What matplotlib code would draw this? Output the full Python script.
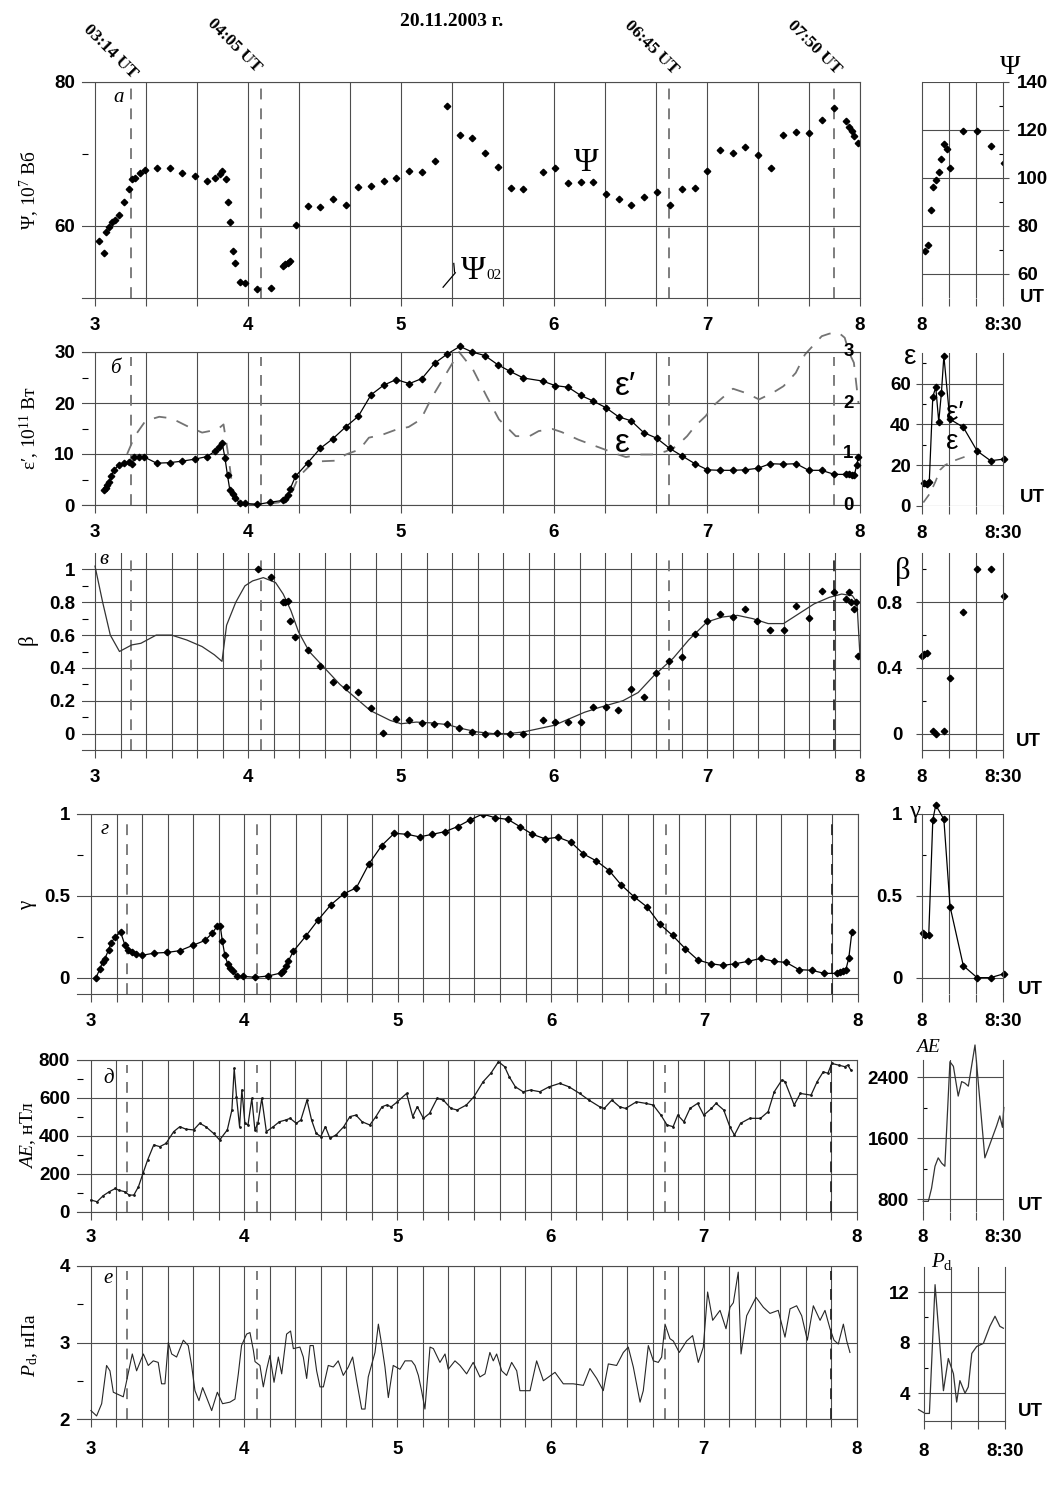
import matplotlib.pyplot as plt
from matplotlib.ticker import MultipleLocator

plt.rcParams['font.family'] = ['Liberation Serif', 'DejaVu Serif']
plt.rcParams['mathtext.fontset'] = 'custom'
plt.rcParams['mathtext.rm'] = 'Liberation Serif'
plt.rcParams['mathtext.it'] = 'Liberation Serif:italic'

# ---------------- data ----------------
hours = [3, 4, 5, 6, 7, 8]
hour_labels = ['3', '4', '5', '6', '7', '8']
events = [3.233, 4.083, 6.75, 7.833]
event_labels = ['03:14 UT', '04:05 UT', '06:45 UT', '07:50 UT']

# a) magnetic flux Psi, 10^7 Wb
psi_t = [3.024, 3.056, 3.074, 3.093, 3.111, 3.128, 3.157, 3.189, 3.224, 3.244,
         3.261, 3.292, 3.324, 3.407, 3.49, 3.568, 3.655, 3.733, 3.783, 3.816,
         3.833, 3.853, 3.866, 3.883, 3.899, 3.916, 3.946, 3.983, 4.061, 4.148,
         4.23, 4.245, 4.26, 4.274, 4.311, 4.392, 4.472, 4.555, 4.638, 4.721,
         4.804, 4.887, 4.969, 5.054, 5.137, 5.22, 5.302, 5.385, 5.465, 5.548,
         5.633, 5.716, 5.80, 5.926, 6.009, 6.092, 6.174, 6.255, 6.338, 6.422,
         6.505, 6.586, 6.671, 6.756, 6.838, 6.921, 7.003, 7.084, 7.169, 7.251,
         7.332, 7.421, 7.499, 7.582, 7.665, 7.749, 7.832, 7.911, 7.93, 7.947,
         7.964, 7.984]
psi = [57.9, 56.2, 59.1, 59.8, 60.5, 60.8, 61.5, 63.4, 65.2, 66.5,
       66.7, 67.3, 67.8, 68.0, 68.0, 67.4, 67.0, 66.3, 66.7, 67.2,
       67.7, 66.5, 63.3, 60.6, 56.5, 54.9, 52.2, 52.1, 51.2, 51.4,
       54.5, 54.7, 54.9, 55.1, 60.2, 62.8, 62.6, 63.7, 62.9, 65.4,
       65.6, 66.3, 66.6, 67.7, 67.5, 69.0, 76.7, 72.6, 72.2, 70.1,
       68.2, 65.3, 65.1, 67.5, 68.1, 66.0, 66.1, 66.1, 64.5, 63.8,
       62.9, 64.0, 64.7, 62.9, 65.1, 65.3, 67.7, 70.6, 70.2, 71.0,
       69.9, 68.1, 72.6, 73.0, 72.9, 74.7, 76.4, 74.6, 73.8, 73.2,
       72.5, 71.5]
psi_r_min = [1.1, 2.2, 3.3, 4.2, 5.2, 6.2, 7.2, 8.1, 9.3, 10.4, 15.3, 20.4, 25.4, 30.4]
psi_r = [69.4, 72.1, 86.7, 96.4, 99.3, 102.7, 108.1, 114.2, 111.9, 104.1, 119.7, 119.7, 113.5, 106.4]

# b) epsilon' (10^11 W) and epsilon (right scale)
eps1_t = [3.056, 3.069, 3.08, 3.089, 3.106, 3.122, 3.154, 3.189, 3.222, 3.241,
          3.256, 3.289, 3.322, 3.403, 3.487, 3.57, 3.653, 3.733, 3.786, 3.81,
          3.831, 3.849, 3.866, 3.881, 3.899, 3.916, 3.946, 3.983, 4.061, 4.146,
          4.228, 4.245, 4.263, 4.276, 4.31, 4.391, 4.472, 4.555, 4.638, 4.721,
          4.804, 4.887, 4.969, 5.054, 5.137, 5.22, 5.302, 5.385, 5.465, 5.548,
          5.633, 5.713, 5.80, 5.926, 6.009, 6.092, 6.174, 6.255, 6.338, 6.422,
          6.505, 6.586, 6.671, 6.756, 6.838, 6.921, 7.003, 7.084, 7.169, 7.251,
          7.332, 7.414, 7.499, 7.582, 7.665, 7.749, 7.832, 7.91, 7.93, 7.945,
          7.963, 7.978, 7.99]
eps1 = [3.0, 3.4, 3.9, 4.5, 5.6, 6.8, 7.8, 8.3, 8.4, 8.0,
        9.4, 9.5, 9.4, 8.2, 8.3, 8.6, 9.0, 9.5, 10.6, 11.3,
        12.2, 9.3, 5.8, 3.0, 2.1, 1.4, 0.35, 0.3, 0.1, 0.55,
        0.9, 1.2, 1.9, 3.2, 5.6, 8.3, 11.1, 13.0, 15.3, 17.4,
        21.6, 23.5, 24.6, 23.8, 24.8, 27.8, 29.6, 31.1, 30.0, 29.3,
        27.5, 26.2, 24.9, 24.3, 23.4, 23.1, 21.5, 20.4, 19.1, 17.3,
        16.5, 14.2, 13.1, 11.1, 9.6, 8.1, 6.9, 6.8, 6.8, 6.9,
        7.2, 8.1, 8.0, 8.1, 6.8, 6.8, 6.0, 6.0, 6.0, 5.9,
        5.8, 7.8, 9.5]
eps_t = [3.21, 3.26, 3.33, 3.42, 3.5, 3.6, 3.7, 3.8, 3.84, 3.87,
         3.9, 3.95, 4.0, 4.1, 4.2, 4.28, 4.33, 4.43, 4.5, 4.58,
         4.64, 4.73, 4.79, 4.88, 4.97, 5.05, 5.13, 5.2, 5.3, 5.38,
         5.47, 5.56, 5.64, 5.75, 5.84, 5.9, 5.99, 6.05, 6.16, 6.24,
         6.33, 6.39, 6.47, 6.56, 6.64, 6.73, 6.8, 6.87, 6.92, 6.99,
         7.05, 7.1, 7.17, 7.26, 7.34, 7.43, 7.5, 7.58, 7.64, 7.71,
         7.75, 7.8, 7.86, 7.9, 7.93, 7.96, 7.99]
eps = [1.0, 1.35, 1.65, 1.73, 1.7, 1.55, 1.42, 1.48, 1.58, 1.0,
       0.3, 0.05, 0.02, 0.01, 0.05, 0.2, 0.55, 0.85, 0.86, 0.87,
       0.99, 1.09, 1.32, 1.38, 1.48, 1.53, 1.68, 2.1, 2.6, 3.0,
       2.66, 2.13, 1.68, 1.35, 1.35, 1.45, 1.49, 1.43, 1.28, 1.19,
       1.09, 1.02, 0.94, 0.99, 0.99, 1.05, 1.15, 1.35, 1.54, 1.74,
       1.97, 2.1, 2.28, 2.19, 2.07, 2.2, 2.33, 2.59, 2.95, 3.18,
       3.31, 3.36, 3.38, 3.28, 2.98, 2.79, 2.0]
eps1_r_min = [0.9, 1.7, 2.7, 4.0, 5.1, 6.2, 7.2, 8.1, 10.3, 15.3, 20.4, 25.4, 30.4]
eps1_r = [11.3, 10.9, 12.0, 53.6, 58.2, 41.3, 55.6, 73.6, 42.6, 38.6, 27.0, 22.2, 23.0]
eps_r_min = [0.5, 3.0, 5.0, 6.7, 8.5, 11.0, 16.0]
eps_r = [1.7, 6.3, 12.0, 17.7, 20.0, 21.8, 24.2]

# c) beta
beta_t = [4.063, 4.148, 4.226, 4.243, 4.261, 4.277, 4.307, 4.39, 4.473, 4.556,
          4.638, 4.721, 4.801, 4.884, 4.97, 5.052, 5.135, 5.218, 5.3, 5.382,
          5.464, 5.547, 5.63, 5.71, 5.80, 5.926, 6.009, 6.092, 6.174, 6.255,
          6.338, 6.42, 6.505, 6.586, 6.669, 6.754, 6.837, 6.92, 7.003, 7.085,
          7.17, 7.25, 7.33, 7.415, 7.5, 7.58, 7.664, 7.749, 7.831, 7.907,
          7.925, 7.94, 7.96, 7.975, 7.99]
beta = [1.0, 0.955, 0.8, 0.8, 0.81, 0.687, 0.587, 0.51, 0.41, 0.313,
        0.284, 0.251, 0.155, 0.002, 0.09, 0.08, 0.066, 0.057, 0.06, 0.037,
        0.008, 0.0, 0.002, 0.0, 0.0, 0.08, 0.07, 0.07, 0.07, 0.163,
        0.16, 0.141, 0.27, 0.223, 0.366, 0.441, 0.468, 0.605, 0.687, 0.73,
        0.71, 0.76, 0.685, 0.632, 0.63, 0.775, 0.705, 0.87, 0.86, 0.82,
        0.865, 0.80, 0.76, 0.80, 0.47]
beta_fit_t = [3.0, 3.05, 3.1, 3.16, 3.24, 3.3, 3.4, 3.5, 3.6, 3.7,
              3.78, 3.83, 3.86, 3.92, 3.98, 4.03, 4.1, 4.18, 4.23, 4.28,
              4.33, 4.4, 4.5, 4.6, 4.7, 4.8, 4.93, 5.0, 5.1, 5.2,
              5.3, 5.4, 5.5, 5.6, 5.7, 5.8, 5.9, 6.0, 6.1, 6.2,
              6.3, 6.45, 6.55, 6.65, 6.78, 6.88, 7.0, 7.1, 7.2, 7.3,
              7.4, 7.5, 7.6, 7.7, 7.8, 7.88, 7.95, 7.98, 8.0]
beta_fit = [1.02, 0.8, 0.6, 0.5, 0.54, 0.55, 0.6, 0.6, 0.57, 0.53,
            0.48, 0.44, 0.66, 0.8, 0.9, 0.93, 0.95, 0.92, 0.85, 0.75,
            0.62, 0.5, 0.4, 0.3, 0.22, 0.14, 0.08, 0.06, 0.07, 0.065,
            0.055, 0.03, 0.01, 0.0, 0.0, 0.01, 0.03, 0.05, 0.09, 0.13,
            0.16, 0.2, 0.25, 0.35, 0.46, 0.57, 0.68, 0.71, 0.72, 0.7,
            0.67, 0.67, 0.73, 0.79, 0.83, 0.85, 0.84, 0.8, 0.47]
beta_r_min = [0.0, 0.9, 2.0, 4.2, 5.2, 8.1, 10.4, 15.3, 20.4, 25.4, 30.4]
beta_r = [0.47, 0.486, 0.49, 0.015, 0.0, 0.015, 0.34, 0.74, 1.0, 1.0, 0.84]

# d) gamma
gam_t = [3.033, 3.059, 3.076, 3.091, 3.115, 3.13, 3.158, 3.193, 3.222, 3.243,
         3.265, 3.295, 3.33, 3.413, 3.497, 3.58, 3.663, 3.743, 3.791, 3.821,
         3.843, 3.856, 3.873, 3.891, 3.906, 3.924, 3.954, 3.989, 4.071, 4.154,
         4.237, 4.254, 4.271, 4.286, 4.319, 4.399, 4.482, 4.564, 4.647, 4.73,
         4.812, 4.895, 4.977, 5.06, 5.142, 5.225, 5.307, 5.39, 5.47, 5.553,
         5.635, 5.718, 5.796, 5.878, 5.961, 6.045, 6.13, 6.21, 6.295, 6.378,
         6.456, 6.543, 6.626, 6.708, 6.791, 6.874, 6.956, 7.039, 7.12, 7.2,
         7.286, 7.368, 7.45, 7.532, 7.615, 7.697, 7.781, 7.863, 7.88, 7.9,
         7.92, 7.94, 7.96]
gam = [0.0, 0.055, 0.096, 0.116, 0.17, 0.211, 0.248, 0.279, 0.197, 0.17,
       0.157, 0.146, 0.136, 0.15, 0.154, 0.165, 0.197, 0.227, 0.272, 0.313,
       0.315, 0.226, 0.136, 0.085, 0.059, 0.038, 0.008, 0.008, 0.002, 0.01,
       0.028, 0.04, 0.069, 0.1, 0.161, 0.252, 0.354, 0.445, 0.512, 0.549,
       0.695, 0.807, 0.882, 0.876, 0.86, 0.876, 0.892, 0.923, 0.963, 1.0,
       0.977, 0.967, 0.923, 0.876, 0.848, 0.858, 0.827, 0.756, 0.713, 0.654,
       0.567, 0.492, 0.431, 0.327, 0.258, 0.177, 0.108, 0.085, 0.075, 0.085,
       0.1, 0.118, 0.1, 0.093, 0.049, 0.045, 0.026, 0.026, 0.036, 0.04,
       0.045, 0.12, 0.278]
gam_r_min = [0.3, 1.2, 2.5, 4.0, 5.1, 8.1, 10.4, 15.3, 20.4, 25.4, 30.4]
gam_r = [0.272, 0.262, 0.262, 0.963, 1.055, 0.967, 0.434, 0.073, 0.0, 0.0, 0.024]

# e) AE index, nT
ae_t = [3.0, 3.04, 3.08, 3.12, 3.16, 3.18, 3.22, 3.25, 3.28, 3.31,
        3.34, 3.37, 3.41, 3.45, 3.49, 3.54, 3.58, 3.62, 3.67, 3.71,
        3.75, 3.8, 3.84, 3.89, 3.92, 3.935, 3.95, 3.97, 3.985, 4.005,
        4.025, 4.05, 4.07, 4.09, 4.115, 4.145, 4.19, 4.23, 4.27, 4.3,
        4.34, 4.37, 4.41, 4.44, 4.47, 4.5, 4.53, 4.56, 4.6, 4.65,
        4.69, 4.73, 4.77, 4.82, 4.86, 4.9, 4.93, 4.96, 5.0, 5.06,
        5.1, 5.13, 5.17, 5.21, 5.26, 5.3, 5.35, 5.39, 5.45, 5.5,
        5.56, 5.61, 5.66, 5.7, 5.73, 5.77, 5.82, 5.87, 5.93, 5.99,
        6.06, 6.12, 6.19, 6.25, 6.32, 6.35, 6.4, 6.45, 6.49, 6.56,
        6.62, 6.67, 6.72, 6.76, 6.8, 6.83, 6.87, 6.91, 6.96, 7.0,
        7.05, 7.08, 7.13, 7.17, 7.2, 7.24, 7.3, 7.37, 7.42, 7.46,
        7.51, 7.53, 7.59, 7.63, 7.7, 7.74, 7.78, 7.81, 7.835, 7.88,
        7.92, 7.94, 7.96]
ae = [63, 54, 86, 107, 124, 115, 107, 89, 89, 133,
      204, 274, 353, 344, 361, 423, 449, 436, 432, 467,
      449, 414, 379, 432, 537, 756, 607, 449, 642, 467,
      458, 598, 432, 467, 598, 423, 449, 475, 484, 493,
      467, 484, 589, 484, 414, 397, 449, 388, 406, 449,
      502, 510, 475, 458, 502, 554, 563, 554, 580, 624,
      502, 554, 493, 519, 598, 589, 545, 537, 563, 607,
      686, 730, 791, 765, 712, 659, 633, 642, 633, 659,
      677, 659, 624, 589, 554, 545, 589, 554, 545, 580,
      572, 563, 510, 458, 449, 510, 475, 545, 572, 510,
      545, 572, 537, 449, 405, 467, 493, 493, 528, 633,
      695, 686, 563, 624, 615, 686, 738, 730, 782, 773,
      765, 773, 747]
ae_r_min = [0.1, 2.0, 3.2, 4.5, 5.7, 7.0, 8.2, 10.1, 11.4, 13.2,
            14.5, 15.7, 17.0, 19.5, 23.2, 25.1, 27.6, 28.8, 29.8, 30.3]
ae_r = [770, 770, 940, 1230, 1340, 1270, 1230, 2600, 2540, 2150,
        2340, 2320, 2280, 2820, 1340, 1520, 1760, 1890, 1740, 2000]

# f) dynamic pressure Pd, nPa
pd_t = [3.0, 3.037, 3.07, 3.102, 3.124, 3.146, 3.189, 3.211, 3.233, 3.27,
        3.298, 3.342, 3.374, 3.407, 3.439, 3.461, 3.483, 3.505, 3.527, 3.559,
        3.603, 3.635, 3.657, 3.679, 3.705, 3.729, 3.755, 3.788, 3.825, 3.859,
        3.907, 3.94, 3.962, 3.983, 4.016, 4.038, 4.06, 4.071, 4.103, 4.125,
        4.147, 4.168, 4.195, 4.223, 4.245, 4.277, 4.303, 4.321, 4.364, 4.386,
        4.408, 4.43, 4.451, 4.473, 4.495, 4.517, 4.549, 4.582, 4.614, 4.647,
        4.68, 4.708, 4.734, 4.767, 4.789, 4.81, 4.839, 4.854, 4.876, 4.897,
        4.919, 4.941, 4.973, 5.017, 5.05, 5.093, 5.115, 5.137, 5.158, 5.18,
        5.213, 5.235, 5.278, 5.311, 5.332, 5.376, 5.409, 5.452, 5.495, 5.539,
        5.572, 5.604, 5.626, 5.648, 5.681, 5.713, 5.746, 5.779, 5.8, 5.866,
        5.909, 5.953, 6.029, 6.083, 6.148, 6.214, 6.257, 6.301, 6.344, 6.377,
        6.431, 6.475, 6.507, 6.54, 6.584, 6.605, 6.638, 6.671, 6.703, 6.725,
        6.747, 6.779, 6.801, 6.84, 6.888, 6.927, 6.964, 6.997, 7.025, 7.058,
        7.106, 7.145, 7.171, 7.193, 7.225, 7.243, 7.28, 7.341, 7.389, 7.432,
        7.486, 7.53, 7.563, 7.606, 7.639, 7.676, 7.715, 7.759, 7.791, 7.824,
        7.85, 7.878, 7.911, 7.933, 7.954]
pd = [2.11, 2.04, 2.2, 2.7, 2.63, 2.35, 2.31, 2.29, 2.5, 2.85,
      2.63, 2.85, 2.7, 2.76, 2.74, 2.46, 2.46, 3.0, 2.85, 2.81,
      3.03, 2.96, 2.7, 2.37, 2.24, 2.41, 2.28, 2.11, 2.35, 2.2,
      2.22, 2.26, 2.59, 2.96, 3.11, 3.13, 2.9, 2.75, 2.7, 2.42,
      2.65, 2.83, 2.48, 2.81, 2.59, 3.11, 3.15, 2.92, 2.94, 2.81,
      2.53, 2.96, 2.96, 2.63, 2.42, 2.42, 2.7, 2.68, 2.76, 2.57,
      2.68, 2.81, 2.5, 2.13, 2.13, 2.55, 2.76, 2.87, 3.24, 2.98,
      2.68, 2.28, 2.7, 2.65, 2.76, 2.76, 2.7, 2.57, 2.37, 2.13,
      2.94, 2.92, 2.74, 2.85, 2.65, 2.76, 2.7, 2.59, 2.74, 2.55,
      2.59, 2.87, 2.76, 2.85, 2.63, 2.57, 2.74, 2.63, 2.37, 2.37,
      2.76, 2.5, 2.61, 2.46, 2.46, 2.44, 2.66, 2.53, 2.37, 2.72,
      2.7, 2.87, 2.94, 2.68, 2.22, 2.37, 2.96, 2.76, 2.74, 2.81,
      3.24, 3.05, 3.02, 2.87, 3.02, 3.09, 2.74, 2.94, 3.66, 3.29,
      3.42, 3.18, 3.46, 3.52, 3.92, 2.85, 3.35, 3.59, 3.46, 3.38,
      3.42, 3.07, 3.44, 3.48, 3.35, 3.03, 3.48, 3.29, 3.42, 3.18,
      3.03, 2.98, 3.24, 3.02, 2.87]
pd_r_min = [-2.0, 0.4, 2.0, 4.1, 7.2, 9.0, 10.9, 12.1, 13.3, 15.2,
            16.4, 17.7, 19.5, 22.0, 24.4, 26.3, 28.1, 29.4]
pd_r = [2.7, 2.4, 2.4, 12.6, 4.2, 6.75, 5.55, 3.3, 5.0, 4.0,
        4.5, 7.15, 7.7, 7.95, 9.3, 10.1, 9.3, 9.15]

# ---------------- layout ----------------
W, H = 1058, 1490
fig = plt.figure(figsize=(W / 100, H / 100), dpi=100)
GRID = '0.3'
tfont = dict(family='Liberation Sans', weight='bold', size=13.5)


def box(l, t, r, b):
    return fig.add_axes([l / W, 1 - b / H, (r - l) / W, (b - t) / H])


def ftext(x, y, s, **kw):
    fig.text(x / W, 1 - y / H, s, **kw)


def main_panel(l, t, r, b, x0, ylim, ymaj, ylab, ymin, step, xpad=8):
    ax = box(l, t, r, b)
    ax.set_xlim(x0, 8)
    ax.set_ylim(*ylim)
    ax.set_xticks(hours)
    ax.set_xticklabels(hour_labels, **tfont)
    ax.xaxis.set_minor_locator(MultipleLocator(step))
    ax.set_yticks(ymaj)
    ax.set_yticklabels(ylab, **tfont)
    ax.set_yticks(ymin, minor=True)
    ax.tick_params(axis='x', which='both', direction='out', length=6,
                   width=0.8, color=GRID, pad=xpad)
    ax.tick_params(axis='y', which='major', length=0, pad=5)
    ax.tick_params(axis='y', which='minor', direction='in', length=4, width=0.8)
    ax.grid(which='both', axis='x', color=GRID, lw=0.8)
    ax.grid(which='major', axis='y', color=GRID, lw=0.8)
    ax.spines['left'].set_visible(False)
    for s in ('top', 'bottom', 'right'):
        ax.spines[s].set_color(GRID)
        ax.spines[s].set_linewidth(0.8)
    ax.set_axisbelow(True)
    for i, x in enumerate(events):
        c = '0.15' if (i == 3 and step < 0.3) else '0.45'
        ax.axvline(x, ymax=0.97, color=c, lw=1.3, ls=(0, (6, 5)), zorder=1.5)
    return ax


def right_panel(l, t, r, b, ylim, ymaj, ylab, ymin, right=False, ypad=4, xpad=8):
    ax = box(l, t, r, b)
    ax.set_xlim(0, 30)
    ax.set_ylim(*ylim)
    ax.set_xticks([0, 30])
    ax.set_xticklabels(['8', '8:30'], **tfont)
    ax.set_xticks([10, 20], minor=True)
    ax.set_yticks(ymaj)
    ax.set_yticklabels(ylab, **tfont)
    ax.set_yticks(ymin, minor=True)
    if right:
        ax.yaxis.tick_right()
    ax.tick_params(axis='x', which='both', direction='out', length=6,
                   width=0.8, color=GRID, pad=xpad)
    ax.tick_params(axis='y', which='major', direction='out', length=4,
                   width=0.8, color=GRID, pad=ypad)
    ax.tick_params(axis='y', which='minor', direction='in', length=3, width=0.8)
    ax.grid(which='minor', axis='x', color=GRID, lw=0.8)
    ax.grid(which='major', axis='y', color=GRID, lw=0.8)
    ax.spines['top'].set_visible(False)
    ax.spines['bottom'].set_visible(False)
    for s in ('left', 'right'):
        ax.spines[s].set_color(GRID)
        ax.spines[s].set_linewidth(0.8)
    ax.set_axisbelow(True)
    return ax


mk = dict(marker='D', ms=3.3, color='k', mec='k')

# ---- a) Psi ----
ax = main_panel(82, 82, 860, 298, 2.915, (50, 80), [60, 80], ['60', '80'], [70], 1 / 3)
ax.plot(psi_t, psi, ls='none', **mk)
ax.text(6.13, 67.6, 'Ψ', fontsize=24)
ax.text(5.39, 52.6, 'Ψ', fontsize=24)
ax.text(5.56, 52.6, '02', fontsize=11)
ax.plot([5.275, 5.355], [51.5, 53.5], color='k', lw=0.9)
ax.plot([5.345, 5.35], [54.8, 53.6], color='k', lw=0.9)
ax.text(3.12, 77.2, 'а', fontsize=15, style='italic')

axr = right_panel(922, 82, 1003, 298, (50, 140), [60, 80, 100, 120, 140],
                  ['60', '80', '100', '120', '140'], [70, 90, 110, 130], right=True, ypad=6)
axr.plot(psi_r_min, psi_r, ls='none', **mk)
ftext(1010, 68, 'Ψ', fontsize=20, ha='center', va='center')
ftext(1032, 298, 'UT', ha='center', va='center', **tfont)

# ---- b) epsilon' / epsilon ----
ax = main_panel(82, 352, 860, 505, 2.915, (0, 30), [0, 10, 20, 30],
                ['0', '10', '20', '30'], [5, 15, 25], 1 / 3)
ax.plot(eps_t, [v * 10 for v in eps], color='0.45', lw=1.3, ls=(0, (7, 6)),
        clip_on=False, zorder=2)
ax.plot(eps1_t, eps1, lw=0.9, clip_on=False, zorder=3, **mk)
for v in [0, 1, 2, 3]:
    ax.text(7.925, v * 10, str(v), ha='center', va='center', **tfont)
ax.text(6.4, 21.5, 'ε′', fontsize=24, family='Liberation Sans')
ax.text(6.4, 10.3, 'ε', fontsize=24, family='Liberation Sans')
ax.text(3.1, 25.8, 'б', fontsize=15, style='italic')

axr = right_panel(922, 353, 1003, 506, (0, 75), [0, 20, 40, 60],
                  ['0', '20', '40', '60'], [10, 30, 50, 70])
axr.plot(eps_r_min, eps_r, color='0.45', lw=1.2, ls=(0, (6, 5)), clip_on=False)
axr.plot(eps1_r_min, eps1_r, lw=0.9, clip_on=False, **mk)
axr.text(9, 42, 'ε′', fontsize=20, family='Liberation Sans')
axr.text(9, 28, 'ε', fontsize=20, family='Liberation Sans')
ftext(910, 357, 'ε', fontsize=20, family='Liberation Sans', ha='center', va='center')
ftext(1032, 497, 'UT', ha='center', va='center', **tfont)

# ---- c) beta ----
ax = main_panel(82, 553, 860, 750, 2.915, (-0.1, 1.1), [0, 0.2, 0.4, 0.6, 0.8, 1.0],
                ['0', '0.2', '0.4', '0.6', '0.8', '1'], [0.1, 0.3, 0.5, 0.7, 0.9], 1 / 6)
ax.spines['top'].set_visible(False)
ax.plot(beta_fit_t, beta_fit, color='0.2', lw=0.9, clip_on=False)
ax.plot(beta_t, beta, ls='none', **mk)
ax.text(3.03, 1.03, 'в', fontsize=15, style='italic')

axr = right_panel(922, 553, 1003, 750, (-0.1, 1.1), [0, 0.4, 0.8],
                  ['0', '0.4', '0.8'], [0.2, 0.6, 1.0], ypad=10)
axr.spines['bottom'].set_visible(True)
axr.spines['bottom'].set_color(GRID)
axr.plot(beta_r_min, beta_r, ls='none', clip_on=False, **mk)
ftext(903, 572, 'β', fontsize=22, ha='center', va='center')
ftext(1028, 742, 'UT', ha='center', va='center', **tfont)

# ---- d) gamma ----
ax = main_panel(77, 814, 858, 994, 2.909, (-0.1, 1.0), [0, 0.5, 1.0],
                ['0', '0.5', '1'], [0.25, 0.75], 1 / 6)
ax.plot(gam_t, gam, lw=0.9, **mk)
ax.text(3.06, 0.88, 'г', fontsize=15, style='italic')

axr = right_panel(922, 814, 1003, 994, (-0.1, 1.0), [0, 0.5, 1.0],
                  ['0', '0.5', '1'], [0.25, 0.75], ypad=10)
axr.plot(gam_r_min, gam_r, lw=0.9, clip_on=False, **mk)
ftext(915, 812, 'γ', fontsize=18, ha='center', va='center')
ftext(1030, 990, 'UT', ha='center', va='center', **tfont)

# ---- e) AE ----
ax = main_panel(77, 1060, 857, 1212, 2.909, (0, 800), [0, 200, 400, 600, 800],
                ['0', '200', '400', '600', '800'], [100, 300, 500, 700], 1 / 6, xpad=6)
ax.plot(ae_t, ae, color='0.1', lw=0.9, marker='.', ms=2)
ax.text(3.08, 680, 'д', fontsize=15, style='italic')

axr = right_panel(923, 1060, 1003, 1212, (630, 2623), [800, 1600, 2400],
                  ['800', '1600', '2400'], [1200, 2000], ypad=6, xpad=6)
axr.plot(ae_r_min, ae_r, color='0.2', lw=0.9, clip_on=False)
ftext(928, 1048, 'AE', fontsize=14, style='italic', ha='center', va='center')
ftext(1030, 1205, 'UT', ha='center', va='center', **tfont)

# ---- f) Pd ----
ax = main_panel(77, 1266, 857, 1419, 2.909, (2, 4), [2, 3, 4],
                ['2', '3', '4'], [2.5, 3.5], 1 / 6, xpad=10)
ax.plot(pd_t, pd, color='0.15', lw=0.8)
ax.text(3.08, 3.78, 'е', fontsize=15, style='italic')

axr = right_panel(924, 1267, 1005, 1421, (1.8, 14), [4, 8, 12],
                  ['4', '8', '12'], [6, 10], ypad=6, xpad=10)
axr.spines['bottom'].set_visible(True)
axr.spines['bottom'].set_color(GRID)
axr.plot(pd_r_min, pd_r, color='0.2', lw=0.9, clip_on=False)
ftext(942, 1262, '$P_{\\mathrm{d}}$', fontsize=15, ha='center', va='center')
ftext(1030, 1412, 'UT', ha='center', va='center', **tfont)

# ---- y axis titles ----
ftext(30, 190, 'Ψ, 10$^7$ Вб', fontsize=14, rotation=90, ha='center', va='center')
ftext(30, 428, 'ε′, 10$^{11}$ Вт', fontsize=14, rotation=90, ha='center', va='center')
ftext(28, 640, 'β', fontsize=15, rotation=90, ha='center', va='center')
ftext(28, 905, 'γ', fontsize=15, rotation=90, ha='center', va='center')
ftext(28, 1135, '$AE$, нТл', fontsize=14, rotation=90, ha='center', va='center')
ftext(30, 1345, '$P_{\\mathrm{d}}$, нПа', fontsize=14, rotation=90, ha='center', va='center')

# ---- header ----
ftext(452, 22, '20.11.2003 г.', fontsize=14, weight='bold', ha='center', va='center')
for (x, y), s in zip([(110, 52), (234, 46), (651, 48), (814, 47)], event_labels):
    ftext(x, y, s, fontsize=12.5, weight='bold', rotation=-45,
          ha='center', va='center', rotation_mode='anchor')

fig.savefig('out.png', dpi=100)
